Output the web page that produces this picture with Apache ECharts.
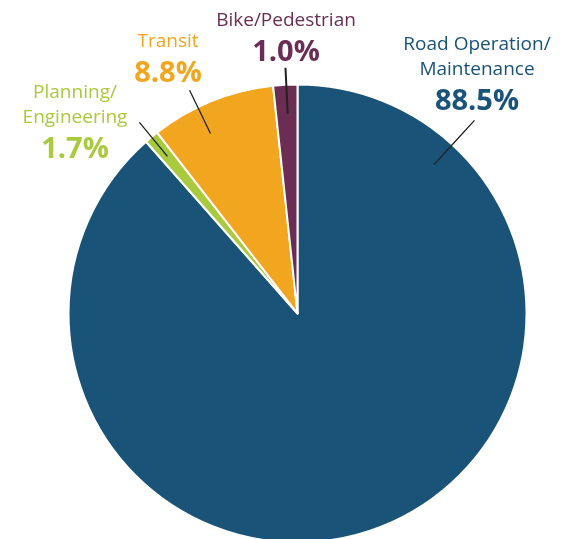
<!DOCTYPE html>
<html>
<head>
<meta charset="utf-8">
<script src="https://cdn.jsdelivr.net/npm/echarts@6/dist/echarts.min.js"></script>
<style>
  html, body { margin: 0; padding: 0; background: #fff; }
  #chart { width: 574px; height: 539px; }
</style>
</head>
<body>
<div id="chart"></div>
<script>
// categories in clockwise order from 12 o'clock
const categories = ["Road Operation/\nMaintenance", "Planning/\nEngineering", "Transit", "Bike/Pedestrian"];
// slice sizes as drawn in the picture (green and purple wedges are drawn swapped vs. their labels)
const sliceShares = [88.5, 1.0, 8.8, 1.7];
// percentages as printed on the labels
const labelShares = [88.5, 1.7, 8.8, 1.0];
const colors = ["#195377", "#a8ca3c", "#f2a61f", "#6c2d54"];

// label placement (pixels) and leader line angle / radii / width
const labelPos = [
  { x: 477, y: 32, angle: 42.5, r1: 202, r2: 262, w: 1.3 },
  { x: 75, y: 80, angle: -39.6, r1: 204, r2: 248, w: 1.3 },
  { x: 168, y: 29, angle: -25.8, r1: 200, r2: 248, w: 1.3 },
  { x: 286, y: 8, angle: -2.8, r1: 200, r2: 246, w: 2 },
];
const cx = 297.5, cy = 313.5, R = 229;

const polar = (deg, r) => {
  const a = (deg * Math.PI) / 180;
  return [cx + r * Math.sin(a), cy - r * Math.cos(a)];
};

const chart = echarts.init(document.getElementById("chart"));

const pieData = (transparent) =>
  categories.map((c, i) => ({
    name: c,
    value: sliceShares[i],
    itemStyle: transparent ? { color: "rgba(0,0,0,0)", borderWidth: 0 } : { color: colors[i] },
    label: { color: colors[i] },
    labelLine: { lineStyle: { width: labelPos[i].w } },
  }));

const option = {
  animation: false,
  series: [
    {
      // visible wedges
      type: "pie",
      center: [cx, cy],
      radius: [0, R],
      startAngle: 90,
      clockwise: true,
      silent: true,
      itemStyle: { borderColor: "#fff", borderWidth: 2 },
      label: { show: false },
      labelLine: { show: false },
      data: pieData(false),
    },
    {
      // overlay carrying the labels, so leader lines sit on top of the wedges
      type: "pie",
      z: 5,
      center: [cx, cy],
      radius: [0, R],
      startAngle: 90,
      clockwise: true,
      silent: true,
      avoidLabelOverlap: false,
      label: {
        show: true,
        position: "outside",
        align: "center",
        formatter: (p) => "{n|" + p.name + "}\n{p|" + labelShares[p.dataIndex].toFixed(1) + "%}",
        rich: {
          n: { fontFamily: "Open Sans", fontSize: 19, lineHeight: 25, align: "center" },
          p: { fontFamily: "Open Sans", fontSize: 29, fontWeight: "bold", lineHeight: 40, align: "center" },
        },
      },
      labelLine: { show: true, lineStyle: { color: "#222", width: 1.3 } },
      labelLayout: (params) => {
        const l = labelPos[params.dataIndex];
        const a = polar(l.angle, l.r1);
        const b = polar(l.angle, l.r2);
        return {
          x: l.x,
          y: l.y,
          align: "center",
          verticalAlign: "top",
          labelLinePoints: [b, [(a[0] + b[0]) / 2, (a[1] + b[1]) / 2], a],
        };
      },
      data: pieData(true),
    },
  ],
};
chart.setOption(option);
</script>
</body>
</html>
